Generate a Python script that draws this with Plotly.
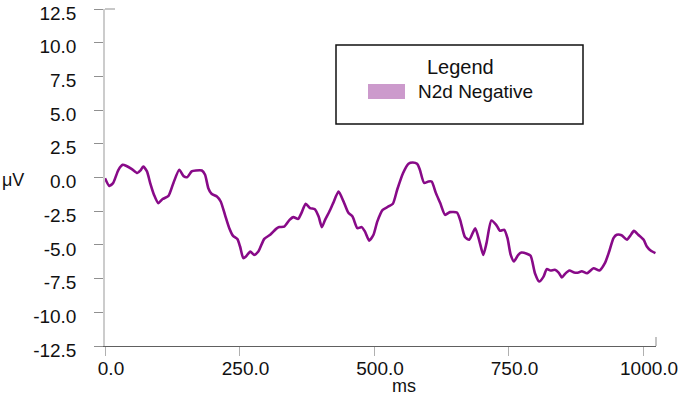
import plotly.graph_objects as go

# waveform (ms, microvolts)
ms = [0, 8, 15, 25, 33, 39, 50, 60, 66, 71, 78, 84, 91, 99, 107, 118, 127, 138, 146, 153,
      161, 169, 180, 186, 192, 198, 208, 215, 223, 231, 238, 246, 251, 257, 262, 270, 277, 285,
      296, 307, 318, 324, 333, 343, 350, 359, 365, 373, 381, 390, 397, 403, 409, 417, 424, 434,
      443, 452, 460, 469, 477, 483, 491, 499, 506, 516, 527, 535, 543, 554, 564, 572, 580, 585,
      593, 601, 607, 615, 623, 632, 641, 654, 660, 669, 677, 688, 696, 703, 709, 718, 727, 734,
      742, 748, 754, 760, 768, 774, 784, 791, 799, 807, 815, 821, 828, 836, 843, 849, 855, 863,
      872, 880, 886, 896, 908, 919, 929, 937, 945, 951, 960, 970, 976, 983, 991, 1001, 1007,
      1014, 1023]
uv = [-0.05, -0.62, -0.42, 0.57, 0.94, 0.87, 0.62, 0.33, 0.52, 0.82, 0.45, -0.42, -1.28, -1.9,
      -1.6, -1.36, -0.42, 0.57, 0.1, 0.03, 0.45, 0.52, 0.52, 0.2, -0.79, -1.21, -1.41, -1.78,
      -2.77, -3.76, -4.33, -4.57, -5.12, -5.98, -5.86, -5.49, -5.74, -5.49, -4.55, -4.25, -3.81,
      -3.68, -3.64, -3.14, -2.94, -3.07, -2.64, -1.95, -2.27, -2.35, -2.9, -3.68, -3.14, -2.52,
      -1.9, -1.04, -1.75, -2.6, -2.9, -3.76, -3.68, -4.0, -4.68, -4.25, -3.27, -2.4, -2.15,
      -1.95, -0.91, 0.33, 1.02, 1.11, 1.02, 0.6, -0.4, -0.3, -0.3, -1.16, -1.9, -2.77, -2.57,
      -2.6, -3.14, -4.42, -4.62, -3.76, -4.75, -5.74, -4.87, -3.19, -3.51, -3.95, -3.88, -4.5,
      -5.74, -6.23, -5.74, -5.57, -5.66, -5.81, -7.1, -7.72, -7.35, -6.8, -6.9, -6.85, -7.05,
      -7.42, -7.15, -6.9, -7.05, -7.05, -6.95, -7.1, -6.73, -6.9, -6.36, -5.49, -4.5, -4.25,
      -4.28, -4.62, -4.33, -3.96, -4.25, -4.62, -5.12, -5.42, -5.61]

series_name = "N2d Negative"
x_ticks = [0, 250, 500, 750, 1000]
y_ticks = [-12.5, -10, -7.5, -5, -2.5, 0, 2.5, 5, 7.5, 10, 12.5]

W, H = 685, 400
L, R, T, B = 105, 29, 9, 54
pw, ph = W - L - R, H - T - B
FONT = "Liberation Sans, Arial, sans-serif"

# pixel -> paper helpers for the hand-drawn legend box
def px(x):
    return (x - L) / pw

def py(y):
    return (H - B - y) / ph

fmt = lambda v: "%.1f" % v  # plain hyphen minus like the original

fig = go.Figure()
fig.add_trace(go.Scatter(x=ms, y=uv, mode="lines", name=series_name,
                         line=dict(color="#880a88", width=2.6, shape="spline", smoothing=0.6),
                         showlegend=False))

fig.update_xaxes(range=[0, 1024], tickvals=x_ticks, ticktext=[fmt(v) for v in x_ticks],
                 showline=True, linecolor="#606060", linewidth=1.2,
                 ticks="outside", ticklen=9, tickcolor="#b0b0b0",
                 showgrid=False, zeroline=False, ticklabelshift=6, ticklabelstandoff=-4,
                 ticklabeloverflow="allow",
                 tickfont=dict(family=FONT, size=19, color="#111"))
fig.update_yaxes(range=[-12.5, 12.5], tickvals=y_ticks, ticktext=[fmt(v) for v in y_ticks],
                 showline=True, linecolor="#cccccc", linewidth=1.5,
                 ticks="outside", ticklen=9, tickcolor="#909090",
                 showgrid=False, zeroline=False, ticklabelshift=4, ticklabelstandoff=14,
                 ticklabeloverflow="allow",
                 tickfont=dict(family=FONT, size=19, color="#111"))

shapes = [
    # legend frame
    dict(type="rect", xref="paper", yref="paper", x0=px(336), x1=px(583), y0=py(124), y1=py(45),
         line=dict(color="#111", width=1.5), fillcolor="white"),
    # legend swatch
    dict(type="rect", xref="paper", yref="paper", x0=px(368), x1=px(405), y0=py(99), y1=py(84),
         line=dict(width=0), fillcolor="#cc9acc"),
    # small end ticks
    dict(type="line", xref="paper", yref="paper", x0=0, x1=px(115), y0=1, y1=1,
         line=dict(color="#909090", width=1)),
    dict(type="line", xref="paper", yref="paper", x0=1, x1=1, y0=0, y1=py(337),
         line=dict(color="#b0b0b0", width=1.5)),
]

annotations = [
    dict(text="Legend", xref="paper", yref="paper", x=px(460), y=py(67), showarrow=False,
         xanchor="center", yanchor="middle", font=dict(family=FONT, size=20, color="#111")),
    dict(text=series_name, xref="paper", yref="paper", x=px(416), y=py(92), showarrow=False,
         xanchor="left", yanchor="middle", font=dict(family=FONT, size=19, color="#111")),
    dict(text="μV", xref="paper", yref="paper", x=px(13), y=py(180), showarrow=False,
         xanchor="center", yanchor="middle", font=dict(family=FONT, size=18, color="#111")),
    dict(text="ms", xref="paper", yref="paper", x=px(404), y=py(386), showarrow=False,
         xanchor="center", yanchor="middle", font=dict(family=FONT, size=18, color="#111")),
]

fig.update_layout(width=W, height=H, margin=dict(l=L, r=R, t=T, b=B, autoexpand=False),
                  paper_bgcolor="white", plot_bgcolor="white",
                  shapes=shapes, annotations=annotations)

# the page's default body margin would push the figure 8px off; drop it
fig.write_html("out.html", config={"displayModeBar": False},
               post_script="document.body.style.margin='0';")
